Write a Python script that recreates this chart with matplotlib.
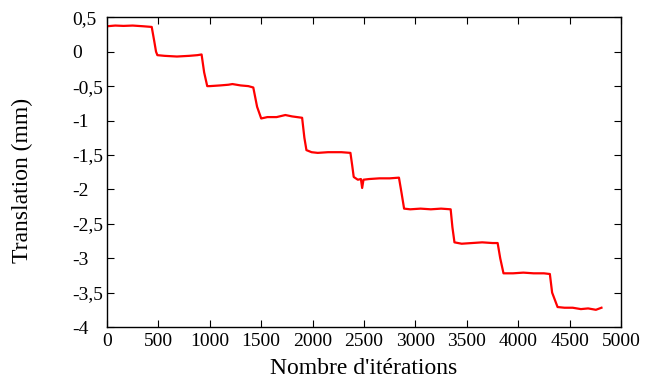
import matplotlib
matplotlib.use("Agg")
import matplotlib.pyplot as plt

# Breakpoints (iteration, translation in mm)
iterations = [0, 80, 160, 250, 350, 435,
              460, 477, 490, 560, 680, 800, 880, 920,
              945, 975, 1000, 1100, 1180, 1220, 1300, 1375, 1423,
              1460, 1500, 1560, 1650, 1735, 1800, 1898,
              1920, 1940, 1990, 2050, 2150, 2200, 2280, 2368,
              2385, 2400, 2440, 2470, 2482, 2495, 2550, 2650, 2750, 2840,
              2865, 2890, 2950, 3050, 3150, 3250, 3343,
              3360, 3380, 3450, 3550, 3650, 3750, 3800,
              3825, 3857, 3950, 4050, 4150, 4250, 4308,
              4330, 4383, 4450, 4530, 4610, 4680, 4756, 4810]
translation = [0.37, 0.38, 0.375, 0.38, 0.37, 0.36,
               0.15, 0.0, -0.05, -0.06, -0.07, -0.06, -0.05, -0.04,
               -0.30, -0.50, -0.50, -0.49, -0.48, -0.47, -0.49, -0.50, -0.52,
               -0.80, -0.97, -0.95, -0.95, -0.92, -0.94, -0.96,
               -1.25, -1.43, -1.46, -1.47, -1.46, -1.46, -1.46, -1.47,
               -1.65, -1.82, -1.86, -1.85, -1.98, -1.86, -1.85, -1.84, -1.84, -1.83,
               -2.05, -2.28, -2.29, -2.28, -2.29, -2.28, -2.29,
               -2.55, -2.77, -2.79, -2.78, -2.77, -2.78, -2.78,
               -3.00, -3.22, -3.22, -3.21, -3.22, -3.22, -3.23,
               -3.50, -3.71, -3.72, -3.72, -3.74, -3.73, -3.75, -3.72]

x_ticks = [0, 500, 1000, 1500, 2000, 2500, 3000, 3500, 4000, 4500, 5000]
y_ticks = [0.5, 0, -0.5, -1, -1.5, -2, -2.5, -3, -3.5, -4]
y_tick_labels = ["0,5", "0", "-0,5", "-1", "-1,5", "-2", "-2,5", "-3", "-3,5", "-4"]

plt.rcParams['font.family'] = ['Liberation Serif', 'DejaVu Serif']

W, H = 657, 383
fig = plt.figure(figsize=(W/100, H/100), dpi=100)
ax = fig.add_axes([107/W, 1 - 327/H, (621 - 107)/W, (327 - 17.3)/H])

ax.plot(iterations, translation, color='#ff0000', lw=1.6)

ax.set_xlim(0, 5000)
ax.set_ylim(-4, 0.5)
ax.set_xticks(x_ticks)
ax.set_xticklabels([str(v) for v in x_ticks])
ax.set_yticks(y_ticks)
ax.set_yticklabels(y_tick_labels)

ax.tick_params(direction='in', top=True, right=True, length=5, width=0.8,
               labelsize=14)
ax.tick_params(axis='x', pad=4)
# y tick labels are left-aligned at x ~ 72 px in the reference
ax.tick_params(axis='y', pad=(107 - 72) * 0.72)
for lab in ax.get_yticklabels():
    lab.set_horizontalalignment('left')

for s in ax.spines.values():
    s.set_linewidth(1.0)
    s.set_color('black')

fig.text(364/W, 1 - 369/H, "Nombre d'itérations", fontsize=17,
         ha='center', va='center')
fig.text(22/W, 1 - 180/H, "Translation (mm)", fontsize=17,
         ha='center', va='center', rotation=90)

fig.savefig("out.png", dpi=100, facecolor='white')
